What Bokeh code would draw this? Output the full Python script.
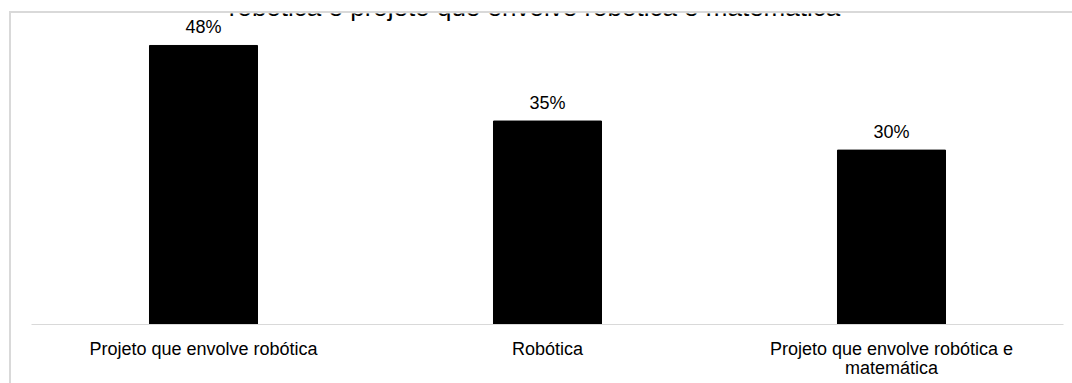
from bokeh.plotting import figure
from bokeh.models import ColumnDataSource, Label, InlineStyleSheet
from bokeh.embed import file_html
from bokeh.resources import INLINE
from bokeh.core.properties import value

title_text = "robótica e projeto que envolve robótica e matemática"
categories = ["Projeto que envolve robótica", "Robótica", "Projeto que envolve robótica e\nmatemática"]
values = [48, 35, 30]
value_labels = [f"{v}%" for v in values]

FONT = "Liberation Sans"

src = ColumnDataSource(dict(cat=categories, val=values, lab=value_labels))

p = figure(x_range=categories, y_range=(0, 53.5), width=1072, height=383,
           output_backend="svg", toolbar_location=None,
           min_border_left=31, min_border_right=9, min_border_top=13, min_border_bottom=59)

p.vbar(x="cat", top="val", width=0.314, source=src, color="black")
p.text(x="cat", y="val", text="lab", source=src, text_align="center",
       text_baseline="alphabetic", y_offset=-18, text_font=value(FONT),
       text_font_size="18px", text_color="#000000")

p.yaxis.visible = False
p.xgrid.grid_line_color = None
p.ygrid.grid_line_color = None
p.outline_line_color = None
p.border_fill_color = None
p.background_fill_color = None

ax = p.xaxis[0]
ax.axis_line_color = "#d9d9d9"
ax.axis_line_width = 1
ax.major_tick_line_color = None
ax.minor_tick_line_color = None
ax.major_tick_out = 0
ax.major_tick_in = 0
ax.major_label_standoff = 14
ax.major_label_text_font = FONT
ax.major_label_text_font_size = "18px"
ax.major_label_text_line_height = 0.95
ax.major_label_text_color = "#000000"

# light grey chart-area border (left and top edges), drawn behind the canvas
p.stylesheets = [InlineStyleSheet(css="""
:host {
  background-color: #ffffff;
  background-image: linear-gradient(#d9d9d9, #d9d9d9), linear-gradient(#d9d9d9, #d9d9d9);
  background-size: 2px 100%, 100% 2px;
  background-position: 9px 11px, 9px 11px;
  background-repeat: no-repeat;
}
""")]

title = Label(x=534, y=6, x_units="canvas", y_units="canvas", text=title_text,
              text_align="center", text_baseline="alphabetic",
              text_font=FONT, text_font_size="26px", text_color="#000000")
p.add_layout(title)

open("out.html", "w").write(file_html(p, INLINE))
